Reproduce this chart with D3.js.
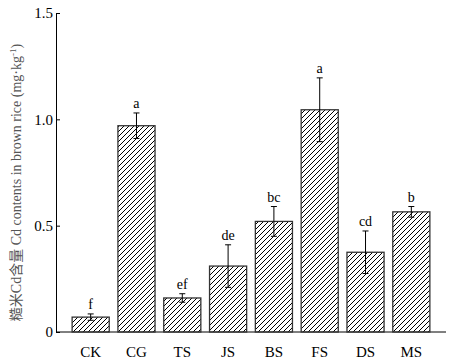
<!DOCTYPE html>
<html>
<head>
<meta charset="utf-8">
<script src="https://cdn.jsdelivr.net/npm/d3@7"></script>
<style>
  body { margin: 0; background: #fff; }
  svg text { font-family: "Liberation Serif", "Times New Roman", serif; }
</style>
</head>
<body>
<div id="chart"></div>
<script>
// Data
const categories = ["CK", "CG", "TS", "JS", "BS", "FS", "DS", "MS"];
const values = [0.07, 0.97, 0.16, 0.31, 0.52, 1.045, 0.375, 0.565];
const errors = [0.015, 0.06, 0.02, 0.10, 0.07, 0.15, 0.10, 0.025];
const letters = ["f", "a", "ef", "de", "bc", "a", "cd", "b"];
const yTicks = [0, 0.5, 1.0, 1.5];
const yTickLabels = ["0", "0.5", "1.0", "1.5"];

const width = 453, height = 362;
const margin = { top: 13, right: 7, bottom: 30, left: 56 };
const serif = "'Liberation Serif', 'Times New Roman', serif";

const svg = d3.select("#chart")
    .append("svg")
    .attr("width", width)
    .attr("height", height);

// Hatch pattern
const defs = svg.append("defs");
defs.append("pattern")
    .attr("id", "hatch")
    .attr("patternUnits", "userSpaceOnUse")
    .attr("width", 5)
    .attr("height", 5)
    .append("path")
    .attr("d", "M-1,1 l2,-2 M0,5 l5,-5 M4,6 l2,-2")
    .attr("stroke", "#000")
    .attr("stroke-width", 1);

const y = d3.scaleLinear()
    .domain([0, 1.5])
    .range([height - margin.bottom, margin.top]);

const x = d3.scaleBand()
    .domain(categories)
    .range([68, 434])
    .paddingInner(0.19)
    .paddingOuter(0.09);

// Axes
const yAxis = svg.append("g")
    .attr("transform", `translate(${margin.left},0)`)
    .attr("font-family", serif)
    .call(d3.axisLeft(y).tickValues(yTicks)
        .tickFormat((d, i) => yTickLabels[i])
        .tickSizeInner(-4).tickSizeOuter(0).tickPadding(6));
yAxis.attr("font-family", serif);
yAxis.select(".domain").attr("stroke", "#000");
yAxis.selectAll("line").attr("stroke", "#000");
yAxis.selectAll("text").attr("font-size", 15).attr("fill", "#000");
yAxis.selectAll(".tick text").attr("x", -3);

svg.append("line")
    .attr("x1", margin.left)
    .attr("x2", 446)
    .attr("y1", y(0))
    .attr("y2", y(0))
    .attr("stroke", "#000");

svg.append("g")
    .attr("font-family", serif)
    .selectAll("text")
    .data(categories)
    .enter()
    .append("text")
    .attr("x", d => x(d) + x.bandwidth() / 2)
    .attr("y", y(0) + 25)
    .attr("text-anchor", "middle")
    .attr("font-size", 15)
    .text(d => d);

// Bars
svg.selectAll(".bar")
    .data(categories)
    .enter()
    .append("rect")
    .attr("class", "bar")
    .attr("x", d => x(d))
    .attr("y", (d, i) => y(values[i]))
    .attr("width", x.bandwidth())
    .attr("height", (d, i) => y(0) - y(values[i]))
    .attr("fill", "url(#hatch)")
    .attr("stroke", "#333")
    .attr("stroke-width", 1.3);

// Error bars
const eb = svg.selectAll(".err")
    .data(categories)
    .enter()
    .append("g")
    .attr("class", "err")
    .attr("transform", d => `translate(${x(d) + x.bandwidth() / 2},0)`);

eb.append("line")
    .attr("y1", (d, i) => y(values[i] + errors[i]))
    .attr("y2", (d, i) => y(values[i] - errors[i]))
    .attr("stroke", "#000");
eb.append("line")
    .attr("x1", -3).attr("x2", 3)
    .attr("y1", (d, i) => y(values[i] + errors[i]))
    .attr("y2", (d, i) => y(values[i] + errors[i]))
    .attr("stroke", "#000");
eb.append("line")
    .attr("x1", -3).attr("x2", 3)
    .attr("y1", (d, i) => y(values[i] - errors[i]))
    .attr("y2", (d, i) => y(values[i] - errors[i]))
    .attr("stroke", "#000");

// Significance letters
eb.append("text")
    .attr("y", (d, i) => y(values[i] + errors[i]) - 5)
    .attr("text-anchor", "middle")
    .attr("font-size", 14)
    .attr("font-family", serif)
    .text((d, i) => letters[i]);

// Y axis title
const title = svg.append("text")
    .attr("transform", `translate(21,${(y(0) + y(1.5)) / 2 + 10}) rotate(-90)`)
    .attr("text-anchor", "middle")
    .attr("font-size", 14)
    .attr("font-family", serif)
    .attr("fill", "#555");
title.append("tspan").style("font-family", "'Noto Sans CJK SC', sans-serif").text("糙米");
title.append("tspan").text("Cd");
title.append("tspan").style("font-family", "'Noto Sans CJK SC', sans-serif").text("含量");
title.append("tspan").text(" Cd contents in brown rice (mg·kg");
title.append("tspan").attr("baseline-shift", "super").attr("font-size", 9).text("-1");
title.append("tspan").text(")");
</script>
</body>
</html>
